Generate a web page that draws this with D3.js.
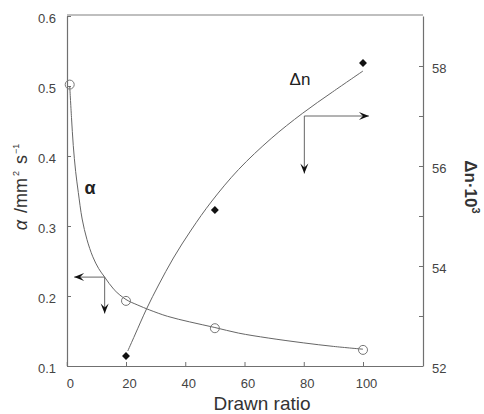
<!DOCTYPE html>
<html><head><meta charset="utf-8">
<script src="https://cdn.jsdelivr.net/npm/d3@7"></script>
<style>body{margin:0;background:#fff}svg{display:block}text{font-family:"Liberation Sans",Arial,sans-serif}</style>
</head><body><svg id="c" width="484" height="414"></svg>
<script>
// Data
const drawnRatio = [1, 20, 50, 100];
const alphaValues = [0.502, 0.193, 0.154, 0.123];
const dnRatio = [20, 50, 100];
const dnValues = [52.2, 55.12, 58.06];
// fitted curves (estimated points along the drawn lines)
const alphaFitX = [1, 1.6, 2.2, 3, 3.9, 5.2, 6.8, 8.8, 10.8, 12.8, 16, 20, 24, 28, 34, 41.5, 50, 58, 68, 80, 90, 100];
const alphaFitY = [0.5, 0.455, 0.415, 0.378, 0.348, 0.31, 0.281, 0.256, 0.239, 0.227, 0.209, 0.195, 0.187, 0.18, 0.171, 0.163, 0.155, 0.147, 0.14, 0.133, 0.128, 0.124];
const dnFitX = [20.6, 23, 27, 31, 36, 42, 49, 58, 69, 79.5, 89.7, 100];
const dnFitY = [52.3, 52.62, 53.15, 53.62, 54.16, 54.72, 55.3, 55.93, 56.55, 57.05, 57.48, 57.9];
const xTicks = [0, 20, 40, 60, 80, 100];
const yLeftTicks = [0.1, 0.2, 0.3, 0.4, 0.5, 0.6];
const yRightTicks = [52, 53, 54, 55, 56, 57, 58];
const yRightLabels = [52, 54, 56, 58];
// arrow annotations (data coordinates)
const alphaArrow = {x: 12.8, y: 0.227, xEnd: 2.5, yEnd: 0.175};
const dnArrow = {x: 80.2, y: 57.0, xEnd: 102, yEnd: 55.85};

const svg = d3.select("#c");
const L = 67, R = 423, T = 16, B = 366;
const x = d3.scaleLinear().domain([0, 120]).range([66.75, 422.25]);
const yL = d3.scaleLinear().domain([0.1, 0.6]).range([B, T]);
const yR = d3.scaleLinear().domain([52, 59]).range([B, T]);

const axisCol = "#707070", textCol = "#444";

// top frame line
svg.append("line").attr("x1", L).attr("x2", R).attr("y1", T - 1).attr("y2", T - 1)
  .attr("stroke", "#aaa").attr("stroke-width", 1.5);

function style(g){
  g.select(".domain").attr("stroke", axisCol).attr("stroke-width", 1.2);
  g.selectAll(".tick line").attr("stroke", axisCol);
  g.selectAll(".tick text").attr("fill", textCol).attr("font-size", 13);
}

const gx = svg.append("g").attr("transform", `translate(0,${B})`)
  .call(d3.axisBottom(x).tickValues(xTicks).tickSizeInner(-4).tickSizeOuter(0).tickPadding(13));
style(gx);
gx.selectAll(".tick text").attr("dx", 3);

const gl = svg.append("g").attr("transform", `translate(${L},0)`)
  .call(d3.axisLeft(yL).tickValues(yLeftTicks).tickFormat(d3.format(".1f")).tickSizeInner(-4).tickSizeOuter(0).tickPadding(11));
style(gl);
gl.selectAll(".tick text").attr("dy", "0.5em");

const gr = svg.append("g").attr("transform", `translate(${R},0)`)
  .call(d3.axisRight(yR).tickValues(yRightTicks).tickFormat(d => yRightLabels.includes(d) ? d : "").tickSizeInner(-4).tickSizeOuter(0).tickPadding(9));
style(gr);
gr.selectAll(".tick text").attr("dy", "0.5em");

// axis titles
svg.append("text").attr("x", 262).attr("y", 410).attr("text-anchor", "middle")
  .attr("font-size", 19).attr("fill", "#333").text("Drawn ratio");

const lt = svg.append("text").attr("transform", "translate(27,187) rotate(-90)")
  .attr("text-anchor", "middle").attr("font-size", 18).attr("fill", "#333");
lt.append("tspan").attr("font-style", "italic").text("α");
lt.append("tspan").attr("dx", 2).text(" /mm");
lt.append("tspan").attr("font-size", 9).attr("dx", 2).attr("dy", -8).text("2");
lt.append("tspan").attr("dx", 2).attr("dy", 8).text(" s");
lt.append("tspan").attr("font-size", 9).attr("dx", 1).attr("dy", -8).text("−1");

const rt = svg.append("text").attr("transform", "translate(465,187) rotate(90)")
  .attr("text-anchor", "middle").attr("font-size", 17).attr("font-weight", "bold").attr("fill", "#333");
rt.append("tspan").text("Δn·10");
rt.append("tspan").attr("font-size", 11).attr("dy", -7).text("3");

// curves
const lineA = d3.line().x(d => x(d[0])).y(d => yL(d[1])).curve(d3.curveCatmullRom);
const lineD = d3.line().x(d => x(d[0])).y(d => yR(d[1])).curve(d3.curveCatmullRom);
svg.append("path").attr("d", lineA(alphaFitX.map((v, i) => [v, alphaFitY[i]])))
  .attr("fill", "none").attr("stroke", "#666").attr("stroke-width", 1);
svg.append("path").attr("d", lineD(dnFitX.map((v, i) => [v, dnFitY[i]])))
  .attr("fill", "none").attr("stroke", "#666").attr("stroke-width", 1);

// markers
svg.selectAll("circle.a").data(drawnRatio).join("circle")
  .attr("cx", d => x(d)).attr("cy", (d, i) => yL(alphaValues[i])).attr("r", 4.5)
  .attr("fill", "none").attr("stroke", "#777").attr("stroke-width", 1);
svg.selectAll("path.d").data(dnRatio).join("path")
  .attr("d", d3.symbol(d3.symbolDiamond2, 40))
  .attr("transform", (d, i) => `translate(${x(d)},${yR(dnValues[i])})`)
  .attr("fill", "#111");

// arrows
function arrowHead(px, py, dir){
  const len = 10, w = 4, notch = 6;
  let pts;
  if (dir === "left") pts = [[px, py], [px + len, py - w], [px + notch, py], [px + len, py + w]];
  if (dir === "right") pts = [[px, py], [px - len, py - w], [px - notch, py], [px - len, py + w]];
  if (dir === "down") pts = [[px, py], [px - w, py - len], [px, py - notch], [px + w, py - len]];
  svg.append("path").attr("d", "M" + pts.join("L") + "Z").attr("fill", "#111");
}
function arrows(a, ys){
  const cx = x(a.x), cy = ys(a.y), hx = x(a.xEnd), vy = ys(a.yEnd);
  svg.append("line").attr("x1", cx).attr("y1", cy).attr("x2", hx).attr("y2", cy).attr("stroke", "#666");
  svg.append("line").attr("x1", cx).attr("y1", cy).attr("x2", cx).attr("y2", vy).attr("stroke", "#666");
  arrowHead(hx, cy, hx < cx ? "left" : "right");
  arrowHead(cx, vy, "down");
}
arrows(alphaArrow, yL);
arrows(dnArrow, yR);

// series labels
svg.append("text").attr("x", 90).attr("y", 194).attr("text-anchor", "middle")
  .attr("font-size", 18).attr("font-weight", "bold").attr("fill", "#222").text("α");
svg.append("text").attr("x", 300).attr("y", 85).attr("text-anchor", "middle")
  .attr("font-size", 17).attr("fill", "#222").text("Δn");
</script></body></html>
